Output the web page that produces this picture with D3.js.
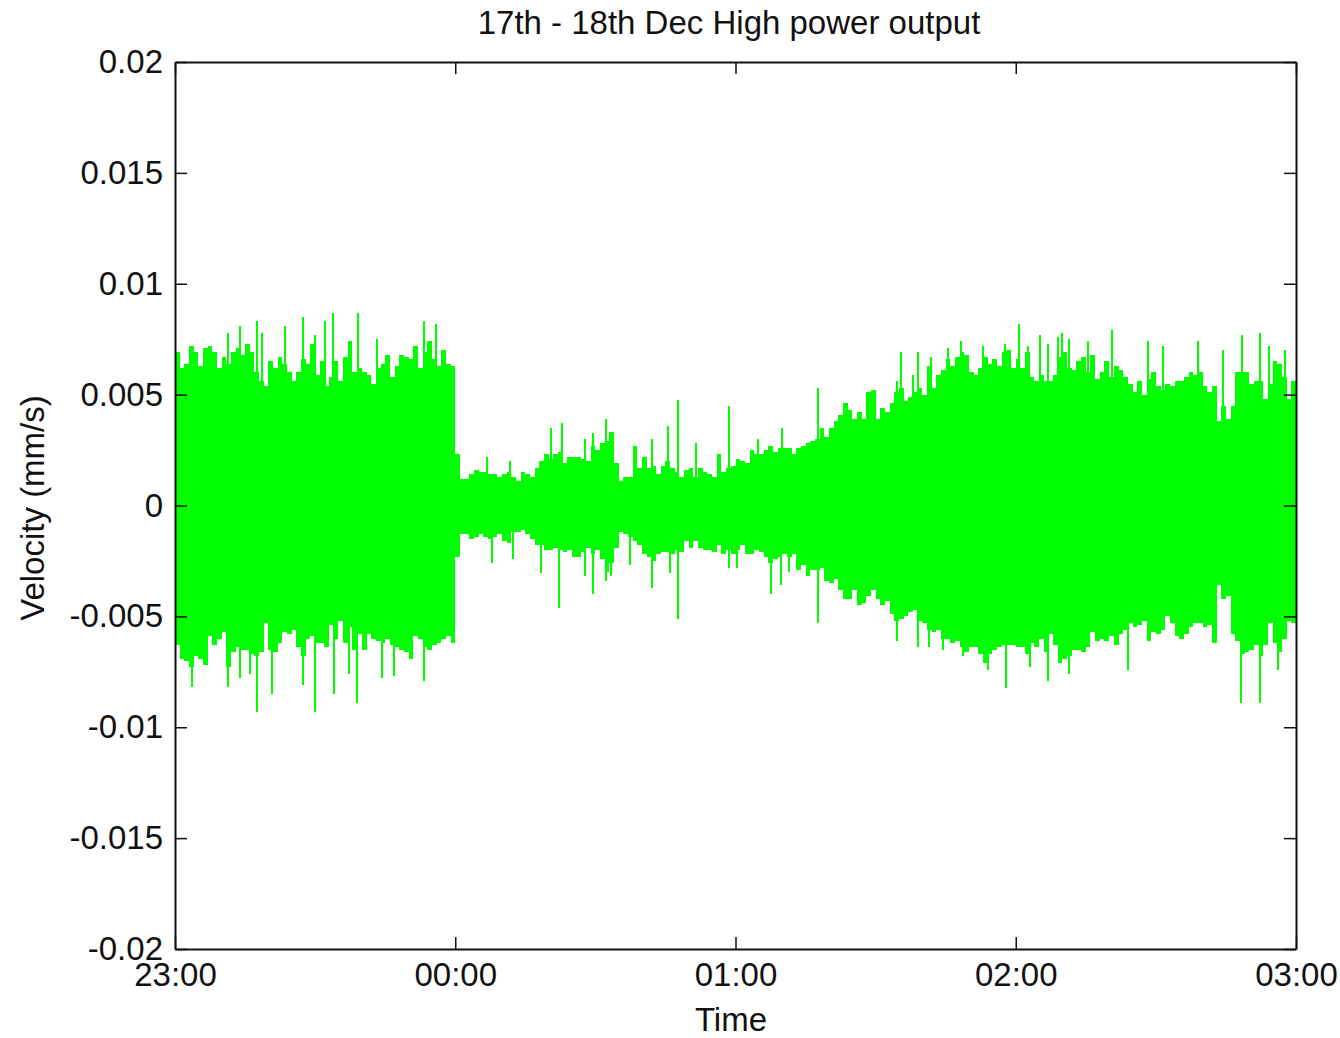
<!DOCTYPE html>
<html>
<head>
<meta charset="utf-8">
<script src="https://cdn.jsdelivr.net/npm/d3@7"></script>
<style>
body { margin: 0; background: #fff; }
svg text { font-family: "Liberation Sans", Arial, sans-serif; }
</style>
</head>
<body>
<svg id="chart"></svg>
<script>
// one value per minute after 23:00, velocity in 1e-3 mm/s (envelope of the dense signal)
const bodyTop = [
  6.9,6.2,6.4,7.2,6.9,6.3,7.1,7.2,6.9,6.2, 6.7,6.4,6.9,7.1,6.8,7.3,6.9,6.0,5.6,5.4,
  6.5,6.2,6.7,6.4,6.0,5.6,6.0,6.6,6.4,7.3, 5.9,6.5,5.4,5.8,6.5,5.6,6.7,7.4,6.0,6.2,
  6.0,5.9,5.5,6.2,6.4,6.8,5.8,6.3,6.8,6.7, 6.6,7.2,6.2,6.9,7.4,6.6,6.3,7.0,6.4,6.3,
  2.3,1.2,1.2,1.4,1.6,1.5,1.5,1.4,1.4,1.3, 1.4,1.5,1.3,1.1,1.5,1.4,1.3,1.7,2.0,2.3,
  2.1,2.3,2.4,1.9,2.2,2.2,2.2,2.1,2.0,2.7, 2.5,2.8,2.9,3.3,1.9,1.1,1.3,1.3,2.7,1.7,
  2.2,1.7,1.8,1.4,1.8,2.0,1.7,1.5,1.3,1.6, 1.7,1.3,1.7,1.5,1.4,1.3,2.3,1.5,1.7,1.8,
  2.1,2.0,1.9,2.5,2.3,2.3,2.5,2.7,2.4,2.6, 2.6,2.6,2.3,2.6,2.7,2.8,2.9,3.0,3.5,3.1,
  3.5,3.8,4.1,4.6,4.3,3.9,4.2,3.9,5.1,5.2, 3.9,4.4,4.2,4.6,5.1,5.3,4.7,4.9,5.1,5.3,
  5.0,6.3,5.3,5.9,6.1,6.6,6.3,6.7,6.9,6.8, 6.0,5.9,6.2,6.7,6.4,6.6,6.3,6.9,7.0,6.2,
  6.6,6.2,6.9,5.8,5.6,5.9,5.6,5.6,5.9,6.7, 6.9,6.2,6.1,6.5,6.7,6.0,6.8,5.7,6.0,6.5,
  5.8,6.3,6.1,5.8,5.5,5.1,5.6,5.0,5.7,6.0, 5.4,5.2,5.5,5.4,5.6,5.6,5.8,6.0,5.9,6.0,
  5.4,5.1,5.4,3.8,4.5,3.9,4.5,6.0,6.0,6.0, 5.5,5.6,5.6,4.8,5.5,6.5,6.4,5.8,4.8,5.6
];
const bodyBottom = [
  -6.3,-6.9,-7.0,-7.3,-6.8,-6.9,-7.2,-5.9,-6.3,-6.0, -5.7,-7.3,-6.6,-6.4,-6.5,-6.5,-6.7,-6.8,-6.6,-5.3,
  -6.5,-6.6,-6.2,-5.7,-5.8,-5.6,-6.4,-6.8,-6.0,-5.9, -6.2,-6.2,-6.4,-5.4,-6.0,-5.2,-6.2,-5.5,-6.5,-5.8,
  -6.5,-5.8,-6.0,-6.1,-6.2,-6.0,-6.3,-6.4,-6.5,-6.6, -6.9,-5.9,-6.0,-6.4,-6.5,-6.3,-6.2,-6.0,-5.9,-6.2,
  -2.3,-1.3,-1.3,-1.5,-1.4,-1.3,-1.4,-1.5,-1.4,-1.3, -1.6,-1.7,-1.2,-1.2,-1.1,-1.3,-1.5,-1.8,-1.8,-2.0,
  -2.0,-1.9,-2.0,-2.1,-2.0,-2.3,-2.3,-2.1,-1.9,-2.2, -2.0,-2.4,-3.0,-2.6,-1.9,-1.2,-1.3,-1.4,-1.6,-1.8,
  -2.2,-2.3,-2.5,-2.2,-2.1,-2.1,-2.2,-2.0,-2.1,-1.6, -1.9,-1.6,-1.9,-2.0,-2.0,-2.1,-1.8,-2.2,-2.0,-2.2,
  -2.0,-1.8,-2.2,-2.2,-2.0,-2.1,-2.3,-2.6,-2.4,-2.3, -2.2,-2.3,-2.2,-2.9,-2.7,-3.2,-2.9,-2.9,-2.8,-3.4,
  -3.5,-3.3,-3.8,-4.2,-4.2,-3.8,-4.5,-4.4,-4.1,-3.8, -4.2,-4.5,-4.3,-4.9,-5.2,-5.1,-5.0,-4.8,-4.7,-5.2,
  -5.3,-5.6,-5.7,-5.6,-6.0,-6.0,-6.2,-6.1,-6.4,-6.6, -6.4,-6.4,-6.7,-7.1,-6.7,-6.5,-6.4,-6.3,-6.3,-6.3,
  -6.4,-6.4,-6.7,-6.2,-6.4,-6.0,-6.6,-5.8,-6.3,-7.1, -6.9,-6.8,-6.5,-6.5,-6.6,-6.4,-5.7,-6.1,-6.0,-6.1,
  -5.9,-6.3,-5.8,-5.6,-5.3,-5.5,-5.4,-5.2,-6.1,-5.7, -5.8,-5.6,-5.0,-5.3,-5.9,-6.0,-5.8,-5.5,-5.3,-5.3,
  -5.5,-5.4,-6.2,-3.6,-4.2,-4.1,-5.8,-6.1,-6.7,-6.6, -6.5,-6.3,-6.8,-6.3,-5.3,-6.2,-6.6,-6.0,-5.2,-5.3
];
// [minute, value] narrow peaks sticking out of the envelope
const spikeTop = [
  [11.4,7.8],[14.0,8.1],[17.5,8.3],[18.6,7.8],[23.6,8.1],[27.5,8.5],[30.0,7.7],[32.2,8.3],
  [33.9,8.7],[39.1,8.7],[43.3,7.5],[53.3,8.3],[55.8,8.2],
  [66.7,2.2],[71.7,2.0],[80.5,3.5],[82.8,3.7],[87.8,3.0],[89.4,3.25],[92.2,3.9],[102.1,3.0],
  [105.5,3.6],[107.6,4.76],[111.5,2.8],[118.7,4.5],
  [124.9,3.0],[129.9,3.5],[137.6,5.3],[154.6,5.6],[155.4,6.9],[157.9,5.9],[159.1,6.9],[161.9,6.7],
  [165.6,7.1],[168.3,7.4],[172.9,7.2],[177.8,7.3],[180.7,8.2],[182.7,7.2],
  [185.2,7.7],[186.8,7.3],[189.0,7.6],[190.0,7.8],[191.3,7.5],[195.5,7.4],[200.5,7.9],[208.4,7.4],
  [211.6,7.2],[219.1,7.4],[224.3,7.0],[228.4,7.7],[232.2,7.8],[234.3,7.2],[237.6,7.0]
];
const spikeBottom = [
  [3.7,-8.2],[11.4,-8.2],[14.0,-7.8],[16.0,-7.6],[17.5,-9.3],[20.7,-8.5],[27.5,-8.1],[30.0,-9.3],
  [34.1,-8.5],[37.3,-7.6],[38.9,-8.9],[44.4,-7.8],[46.9,-7.7],[53.3,-7.9],
  [67.8,-2.6],[72.3,-2.4],[78.3,-3.06],[82.2,-4.6],[87.7,-3.2],[89.4,-4.0],[92.2,-3.4],[93.3,-3.2],
  [97.4,-2.7],[102.1,-3.7],[106.0,-3.05],[107.6,-5.1],[118.7,-2.8],[120.3,-2.8],
  [127.5,-4.0],[129.7,-3.6],[131.5,-3.0],[137.6,-5.3],[154.6,-6.1],[159.1,-6.4],[161.5,-6.4],
  [164.5,-6.5],[168.6,-6.8],[174.1,-7.4],[177.9,-8.25],
  [183.0,-7.3],[186.8,-7.9],[191.3,-7.6],[204.0,-7.4],[228.3,-8.9],[232.2,-8.9],[236.1,-7.4]
];
const xTickMinutes = [0, 60, 120, 180, 240];
const xTickLabels = ["23:00", "00:00", "01:00", "02:00", "03:00"];
const yTickValues = [20, 15, 10, 5, 0, -5, -10, -15, -20];
const yTickLabels = ["0.02", "0.015", "0.01", "0.005", "0", "-0.005", "-0.01", "-0.015", "-0.02"];

let width = 1340, height = 1038;
let margin = {top: 62, right: 44, bottom: 89, left: 175};
let pw = width - margin.left - margin.right;
let ph = height - margin.top - margin.bottom;
let green = "#00ff00";

let svg = d3.select("#chart").attr("width", width).attr("height", height);
let g = svg.append("g").attr("transform", "translate(" + margin.left + "," + margin.top + ")");

let xScale = d3.scaleLinear().domain([0, 240]).range([0, pw]);
let yScale = d3.scaleLinear().domain([-20, 20]).range([ph, 0]);

let body = bodyTop.map((t, i) => ({m: i, hi: t, lo: bodyBottom[i]}));
body.push({m: 240, hi: bodyTop[bodyTop.length - 1], lo: bodyBottom[bodyBottom.length - 1]});

let area = d3.area()
    .x(d => xScale(d.m))
    .y0(d => yScale(d.lo))
    .y1(d => yScale(d.hi))
    .curve(d3.curveStepAfter);

g.append("path")
    .datum(body)
    .attr("d", area)
    .attr("fill", green)
    .attr("shape-rendering", "crispEdges");

g.append("g").selectAll("line")
    .data(spikeTop.concat(spikeBottom))
    .join("line")
    .attr("x1", d => xScale(d[0]))
    .attr("x2", d => xScale(d[0]))
    .attr("y1", yScale(0))
    .attr("y2", d => yScale(d[1]))
    .attr("stroke", green)
    .attr("stroke-width", 2)
    .attr("shape-rendering", "crispEdges");

// axes, ticks pointing inwards on all four sides
let xb = g.append("g").attr("transform", "translate(0," + ph + ")")
    .call(d3.axisBottom(xScale).tickValues(xTickMinutes)
        .tickFormat((d, i) => xTickLabels[i]).tickSize(-12).tickSizeOuter(0).tickPadding(14));
let xt = g.append("g")
    .call(d3.axisTop(xScale).tickValues(xTickMinutes).tickFormat("").tickSize(-12).tickSizeOuter(0));
let yl = g.append("g")
    .call(d3.axisLeft(yScale).tickValues(yTickValues)
        .tickFormat((d, i) => yTickLabels[i]).tickSize(-12).tickSizeOuter(0).tickPadding(12));
let yr = g.append("g").attr("transform", "translate(" + pw + ",0)")
    .call(d3.axisRight(yScale).tickValues(yTickValues).tickFormat("").tickSize(-12).tickSizeOuter(0));

[xb, xt, yl, yr].forEach(a => {
    a.attr("font-size", 33).attr("font-family", null);
    a.select(".domain").attr("stroke", "#111").attr("stroke-width", 2);
    a.selectAll(".tick line").attr("stroke", "#111").attr("stroke-width", 1.5);
    a.selectAll(".tick text").attr("fill", "#111");
});

svg.append("text")
    .text("17th - 18th Dec High power output")
    .attr("x", 729)
    .attr("y", 34)
    .attr("text-anchor", "middle")
    .attr("font-size", 33)
    .attr("fill", "#111");

svg.append("text")
    .text("Time")
    .attr("x", 731)
    .attr("y", 1031)
    .attr("text-anchor", "middle")
    .attr("font-size", 33)
    .attr("fill", "#111");

svg.append("text")
    .text("Velocity (mm/s)")
    .attr("text-anchor", "middle")
    .attr("font-size", 33)
    .attr("fill", "#111")
    .attr("transform", "translate(44,508) rotate(-90)");
</script>
</body>
</html>
